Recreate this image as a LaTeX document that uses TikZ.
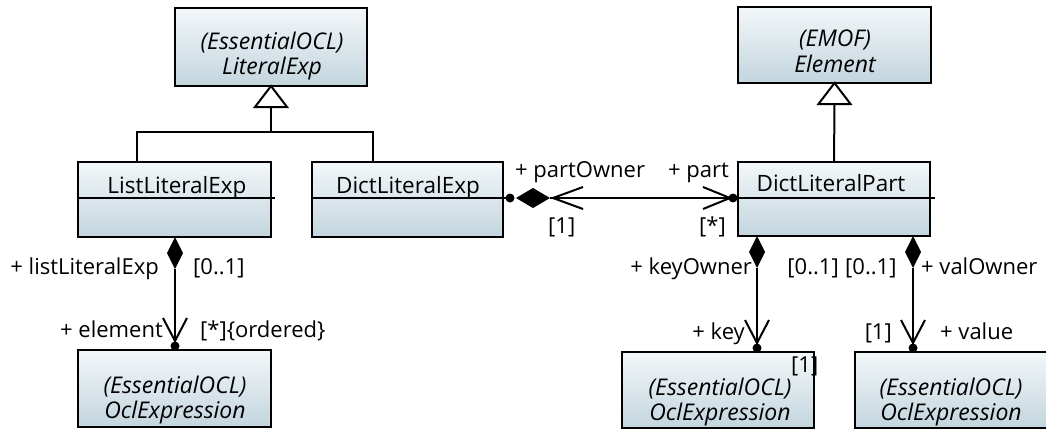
\documentclass[tikz,border=0pt]{standalone}
\usepackage{fontspec}
\setmainfont{Open Sans}
\definecolor{boxtop}{HTML}{F3F7F9}
\definecolor{boxbot}{HTML}{C3D5DE}
\begin{document}
\begin{tikzpicture}[x=1pt,y=-1pt,
  box/.style={draw=black,line width=2pt,top color=boxtop,bottom color=boxbot,inner sep=0pt,outer sep=0pt,anchor=north west},
  conn/.style={line width=2pt},
  lbl/.style={inner sep=0pt,font=\fontsize{22}{26}\selectfont},
  ttl/.style={inner sep=0pt,anchor=base,font=\fontsize{22.5}{26}\selectfont},
  ittl/.style={inner sep=0pt,anchor=base,font=\fontsize{23}{26}\selectfont\itshape}
]
\useasboundingbox (0,0) rectangle (1046,429);
% boxes
\node[box,minimum width=192pt,minimum height=78pt] (lit) at (175,8) {};
\node[box,minimum width=193pt,minimum height=76pt] (elem) at (738,7) {};
\node[box,minimum width=193pt,minimum height=75pt] (list) at (78,162) {};
\node[box,minimum width=191pt,minimum height=75pt] (dexp) at (312,162) {};
\node[box,minimum width=192pt,minimum height=74pt] (dpart) at (738,162) {};
\node[box,minimum width=193pt,minimum height=77pt] (ocl1) at (78,350) {};
\node[box,minimum width=192pt,minimum height=76pt] (ocl2) at (622,352) {};
\node[box,minimum width=194pt,minimum height=76pt] (ocl3) at (855,352) {};
% separators
\draw[conn] ([yshift=-36pt]list.north west) -- ++(197,0);
\draw[conn] ([yshift=-36pt]dexp.north west) -- ++(195,0);
\draw[conn] ([yshift=-36pt]dpart.north west) -- ++(197,0);
% titles
\node[ittl] (t1a) at (272,49) {(EssentialOCL)};
\node[ittl] (t1b) at (272,74) {LiteralExp};
\node[ittl] (t2a) at (835,46) {(EMOF)};
\node[ittl] (t2b) at (835,72) {Element};
\node[ttl] (t3) at (177,193) {ListLiteralExp};
\node[ttl] (t4) at (408,193) {DictLiteralExp};
\node[ttl] (t5) at (831,191) {DictLiteralPart};
\node[ittl] (t6a) at (175,393) {(EssentialOCL)};
\node[ittl] (t6b) at (175,418) {OclExpression};
\node[ittl] (t7a) at (720,395) {(EssentialOCL)};
\node[ittl] (t7b) at (720,420) {OclExpression};
\node[ittl] (t8a) at (951,395) {(EssentialOCL)};
\node[ittl] (t8b) at (951,420) {OclExpression};
% generalizations
\draw[conn,fill=white] (lit.south) -- ++(16,21) -- ++(-32,0) -- cycle;
\coordinate (gA) at ([yshift=-21pt]lit.south);
\coordinate (gL) at (137,162);
\coordinate (gR) at (373,162);
\draw[conn] (gA) -- ++(0,25);
\draw[conn] (gL) -- ++(0,-30) -| (gR);
\draw[conn,fill=white] (elem.south) -- ++(16,21) -- ++(-32,0) -- cycle;
\draw[conn] ([yshift=-21pt]elem.south) -- (dpart.north);
% dict association
\coordinate (aL) at (510,198);
\coordinate (aR) at (733,198);
\fill (aL) circle (4.5);
\fill (516,198) -- (533,188) -- (550,198) -- (533,208) -- cycle;
\draw[conn] (550,198) -- (aR);
\draw[conn] (583,187) -- (553,198) -- (583,209);
\draw[conn] (703,187) -- (730,198) -- (703,209);
\fill (aR) circle (4.5);
% vertical compositions
\foreach \x/\yt/\yb/\nm in {175/237/350/c1, 757/236/352/c2, 913/236/352/c3}{
  \coordinate (\nm t) at (\x,\yt);
  \coordinate (\nm b) at (\x,\yb-4);
  \fill (\nm t) -- ++(8,16) -- ++(-8,16) -- ++(-8,-16) -- cycle;
  \draw[conn] ([yshift=-32pt]\nm t) -- (\nm b);
  \draw[conn] (\x-12,\yb-32) -- (\x,\yb-9) -- (\x+12,\yb-32);
  \fill (\nm b) circle (4.5);
}
% labels
\node[lbl,anchor=base west] (l1) at (515,177) {+ partOwner};
\node[lbl,anchor=base east] (l2) at (729,177) {+ part};
\node[lbl,anchor=base west] (l3) at (548,233) {[1]};
\node[lbl,anchor=base east] (l4) at (726,233) {[*]};
\node[lbl,anchor=base east] (l5) at (159,274) {+ listLiteralExp};
\node[lbl,anchor=base west] (l6) at (193,274) {[0..1]};
\node[lbl,anchor=base east] (l7) at (163,337) {+ element};
\node[lbl,anchor=base west] (l8) at (200,337) {[*]\{ordered\}};
\node[lbl,anchor=base east] (l9) at (752,274) {+ keyOwner};
\node[lbl,anchor=base east] (l10) at (839,274) {[0..1]};
\node[lbl,anchor=base west] (l11) at (845,274) {[0..1]};
\node[lbl,anchor=base west] (l12) at (921,274) {+ valOwner};
\node[lbl,anchor=base east] (l13) at (745,339) {+ key};
\node[lbl,anchor=base east] (l14) at (892,339) {[1]};
\node[lbl,anchor=base west] (l15) at (940,339) {+ value};
\node[lbl,anchor=base west] (l16) at (791,372) {[1]};
\end{tikzpicture}
\end{document}
